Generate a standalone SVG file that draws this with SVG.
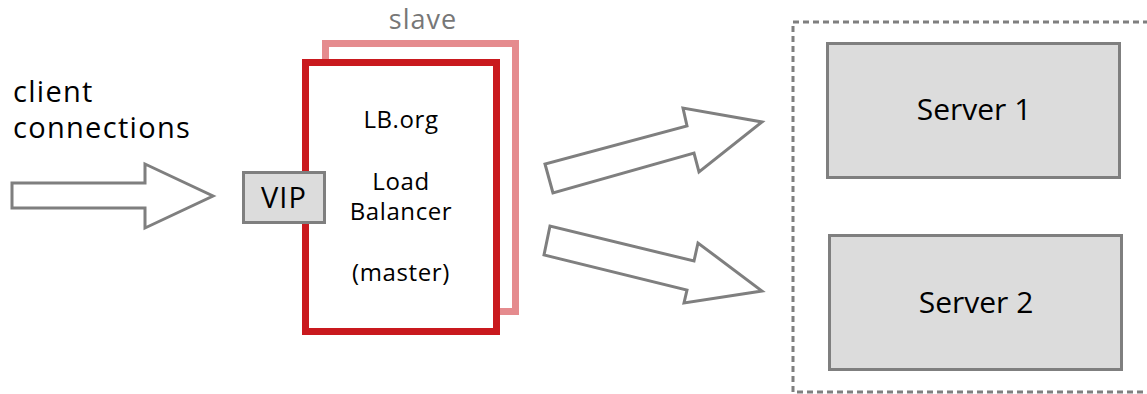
<svg xmlns="http://www.w3.org/2000/svg" width="1147" height="394" viewBox="0 0 1147 394">
<style>
.arrow{fill:#fff;stroke:#7f7f7f;stroke-width:3;stroke-linejoin:miter}
.box{fill:#dcdcdc;stroke:#7f7f7f;stroke-width:3}
.t{font-family:"Open Sans","Liberation Sans",sans-serif;fill:#000}
.m{font-family:"Open Sans","Liberation Sans",sans-serif;fill:#000;font-size:24px;letter-spacing:0.6px;text-anchor:middle}
.s{font-family:"Open Sans","Liberation Sans",sans-serif;fill:#000;font-size:30px;text-anchor:middle}
</style>
<rect width="1147" height="394" fill="#fff"/>
<g id="client-label">
<text class="t" x="13" y="102" font-size="29" letter-spacing="1.3">client</text>
<text class="t" x="13" y="138" font-size="29" letter-spacing="1.3">connections</text>
</g>
<g id="connectors">
<polygon class="arrow" points="12,183 145,183 145,164 213,196 145,228 145,208 12,208"/>
<polygon class="arrow" points="553,193 545,164 687,126 683,108 762,122 699,172 694,153"/>
<polygon class="arrow" points="550,226 544,255 687,290 684,303 762,291 698,243 694,261"/>
</g>
<g id="slave">
<rect x="325.5" y="43.5" width="190" height="268" fill="#fff" stroke="#e58b8e" stroke-width="7"/>
<text x="423" y="29" font-family="'Open Sans','Liberation Sans',sans-serif" font-size="27" letter-spacing="1" fill="#777" text-anchor="middle">slave</text>
</g>
<g id="master">
<rect x="305.5" y="62.5" width="191" height="269" fill="#fff" stroke="#c9191e" stroke-width="7"/>
<text class="m" x="401" y="128">LB.org</text>
<text class="m" x="401" y="190">Load</text>
<text class="m" x="401" y="220">Balancer</text>
<text class="m" x="401" y="281">(master)</text>
</g>
<g id="vip">
<rect class="box" x="243.5" y="172.5" width="81" height="50"/>
<text class="t" x="284" y="208" font-size="29" letter-spacing="1" text-anchor="middle">VIP</text>
</g>
<g id="server-pool">
<rect x="793" y="22" width="370" height="370" fill="none" stroke="#7f7f7f" stroke-width="3" stroke-dasharray="6,4"/>
</g>
<g id="server1">
<rect class="box" x="827.5" y="43.5" width="292" height="134"/>
<text class="s" x="974" y="120">Server 1</text>
</g>
<g id="server2">
<rect class="box" x="829.5" y="235.5" width="292" height="134"/>
<text class="s" x="976" y="313">Server 2</text>
</g>
</svg>
